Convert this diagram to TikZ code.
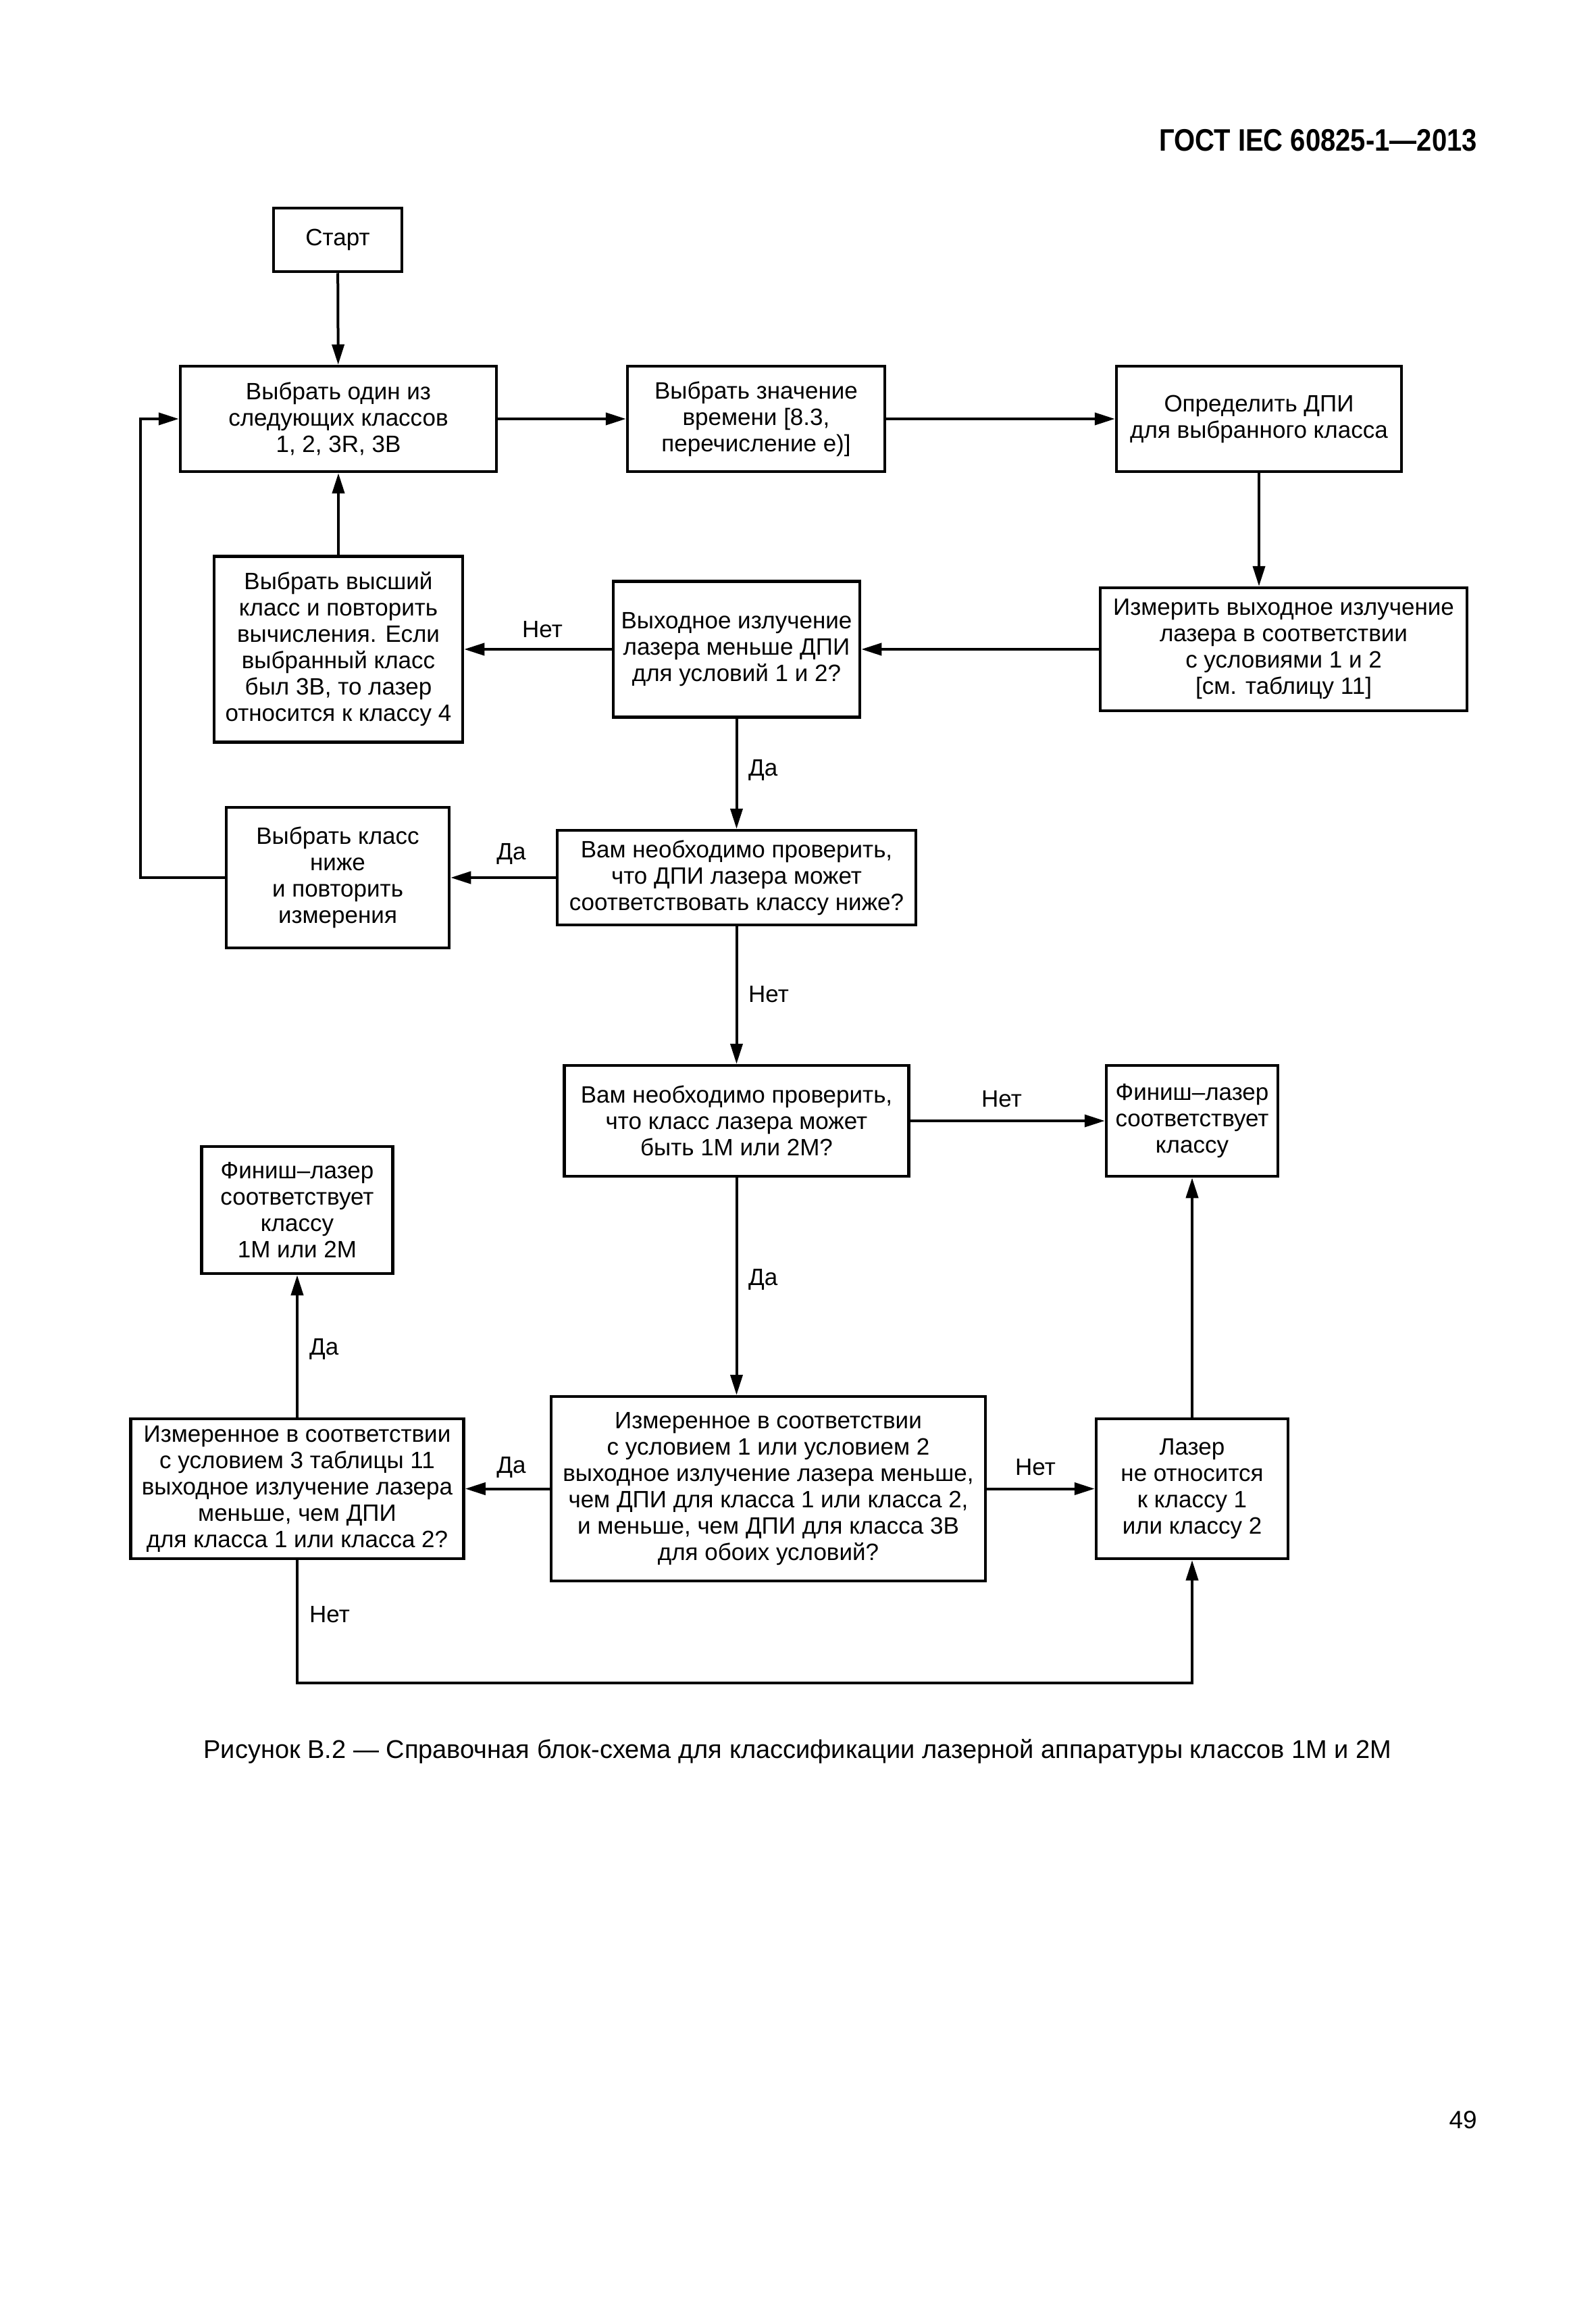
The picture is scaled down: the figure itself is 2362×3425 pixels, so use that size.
\documentclass[tikz,border=0pt]{standalone}
\usepackage{fontspec}
\setmainfont{Liberation Sans}
\usetikzlibrary{arrows.meta}
\begin{document}
\begin{tikzpicture}[x=1pt,y=-1pt,
  box/.style={draw, line width=4.5pt, align=center, inner sep=0pt, font=\fontsize{35}{39}\selectfont},
  conn/.style={line width=4pt, -{Triangle[length=30pt,width=18pt]}},
  wire/.style={line width=4pt},
  lbl/.style={inner sep=0pt, font=\fontsize{35}{39}\selectfont}]
\useasboundingbox (0,0) rectangle (2362,3425);

% header
\node[inner sep=0pt, anchor=east, font=\fontsize{46}{52}\bfseries] (hdr) at (2187,208) {\scalebox{0.87}[1]{ГОСТ IEC 60825-1—2013}};

% boxes
\node[box, minimum width=190pt, minimum height=94pt] (start) at (500,355) {Старт};
\node[box, minimum width=468pt, minimum height=156pt] (A) at (501,620) {Выбрать один из\\следующих классов\\1, 2, 3R, 3B};
\node[box, minimum width=381pt, minimum height=156pt] (B) at (1119.5,620) {Выбрать значение\\времени [8.3,\\перечисление е)]};
\node[box, minimum width=422pt, minimum height=156pt] (C) at (1864,620) {Определить ДПИ\\для выбранного класса};
\node[box, minimum width=543pt, minimum height=182pt] (D) at (1900.5,961) {Измерить выходное излучение\\лазера в соответствии\\с условиями 1 и 2\\{}[см. таблицу 11]};
\node[box, minimum width=365pt, minimum height=201pt] (E) at (1090.5,961) {Выходное излучение\\лазера меньше ДПИ\\для условий 1 и 2?};
\node[box, minimum width=368pt, minimum height=275pt] (F) at (501,961) {Выбрать высший\\класс и повторить\\вычисления. Если\\выбранный класс\\был 3B, то лазер\\относится к классу 4};
\node[box, minimum width=531pt, minimum height=140pt] (G) at (1090.5,1299) {Вам необходимо проверить,\\что ДПИ лазера может\\соответствовать классу ниже?};
\node[box, minimum width=330pt, minimum height=208pt] (H) at (500,1299) {Выбрать класс\\ниже\\и повторить\\измерения};
\node[box, minimum width=510pt, minimum height=164pt] (I) at (1090.5,1659) {Вам необходимо проверить,\\что класс лазера может\\быть 1М или 2М?};
\node[box, minimum width=254pt, minimum height=164pt] (J) at (1765,1659) {Финиш–лазер\\соответствует\\классу};
\node[box, minimum width=283pt, minimum height=188pt] (K) at (440,1791) {Финиш–лазер\\соответствует\\классу\\1М или 2М};
\node[box, minimum width=643pt, minimum height=273pt] (L) at (1137.5,2203.5) {Измеренное в соответствии\\с условием 1 или условием 2\\выходное излучение лазера меньше,\\чем ДПИ для класса 1 или класса 2,\\и меньше, чем ДПИ для класса 3B\\для обоих условий?};
\node[box, minimum width=493pt, minimum height=207pt] (M) at (440,2203.5) {Измеренное в соответствии\\с условием 3 таблицы 11\\выходное излучение лазера\\меньше, чем ДПИ\\для класса 1 или класса 2?};
\node[box, minimum width=284pt, minimum height=207pt] (N) at (1765,2203.5) {Лазер\\не относится\\к классу 1\\или классу 2};

% connectors
\draw[conn] (start) -- (A);
\draw[conn] (A) -- (B);
\draw[conn] (B) -- (C);
\draw[conn] (C.south) -- (C.south |- D.north);
\draw[conn] (D) -- (E);
\draw[conn] (E) -- (F);
\draw[conn] (F) -- (A);
\draw[conn] (E) -- (G);
\draw[conn] (G) -- (H);
\coordinate (lp) at (208,1299);
\draw[conn] (H.west) -- (lp) |- (A.west);
\draw[conn] (G) -- (I);
\draw[conn] (I) -- (J);
\draw[conn] (I.south) -- (I.south |- L.north);
\draw[conn] (L.west) -- (M.east);
\draw[conn] (L.east) -- (N.west);
\draw[conn] (N) -- (J);
\draw[conn] (M) -- (K);
\coordinate (bl) at (440,2491);
\draw[conn] (M.south) -- (bl) -| (N.south);

% labels
\node[lbl] (l1) at (803,932) {Нет};
\node[lbl, anchor=west] (l2) at (1108,1140) {Да};
\node[lbl] (l3) at (757,1264) {Да};
\node[lbl, anchor=west] (l4) at (1108,1472) {Нет};
\node[lbl] (l5) at (1483,1627) {Нет};
\node[lbl, anchor=west] (l6) at (1108,1894) {Да};
\node[lbl] (l7) at (757,2172) {Да};
\node[lbl] (l8) at (1533,2172) {Нет};
\node[lbl, anchor=west] (l9) at (458,1997) {Да};
\node[lbl, anchor=west] (l10) at (458,2390) {Нет};

% caption and page number
\node[lbl, font=\fontsize{38}{44}\selectfont] (cap) at (1181,2592) {Рисунок В.2 — Справочная блок-схема для классификации лазерной аппаратуры классов 1М и 2М};
\node[lbl, font=\fontsize{37}{44}\selectfont, anchor=east] (pg) at (2187,3138) {49};
\end{tikzpicture}
\end{document}
